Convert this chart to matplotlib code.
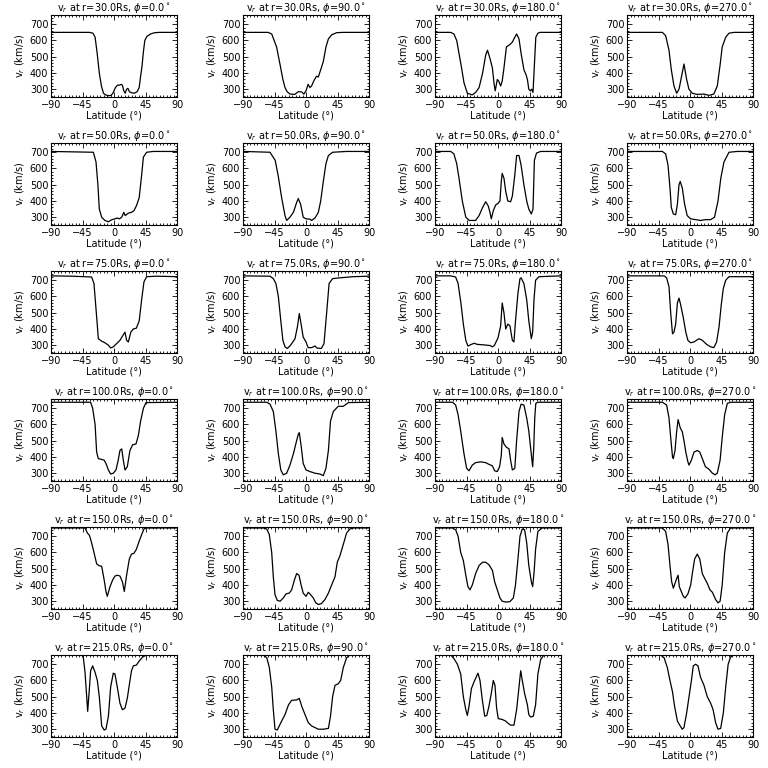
import numpy as np
import matplotlib.pyplot as plt
from matplotlib.ticker import MultipleLocator

radii = [30.0, 50.0, 75.0, 100.0, 150.0, 215.0]
phis = [0.0, 90.0, 180.0, 270.0]
x_ticks = [-90, -45, 0, 45, 90]
y_ticks = [300, 400, 500, 600, 700]

# r = 30 Rs
lat_30_0 = [-90, -35, -30, -27, -24, -21, -18, -15, -12, -8, -4, -1, 2, 5, 8, 10, 12, 14, 16, 18, 20, 22, 25, 29, 33, 36, 38, 40, 42, 44, 47, 52, 58, 65, 90]
v_30_0 = [650, 650, 645, 620, 520, 400, 320, 275, 265, 260, 262, 280, 310, 325, 325, 330, 325, 290, 275, 300, 305, 285, 278, 275, 285, 310, 380, 440, 530, 600, 625, 640, 648, 650, 650]
lat_30_90 = [-90, -54, -49, -42, -37, -33, -30, -27, -23, -16, -11, -6, -3, 0, 3, 5.7, 8, 11, 15, 17.6, 21, 24.7, 28.5, 32, 36.6, 43.8, 53, 90]
v_30_90 = [650, 650, 640, 560, 450, 360, 310, 285, 270, 268, 285, 283, 270, 290, 330, 310, 320, 350, 380, 375, 420, 470, 560, 610, 635, 648, 650, 650]
lat_30_180 = [-90, -67.6, -63, -59, -55.7, -52, -48.6, -43.8, -36.7, -32, -27, -22, -17.6, -15, -11.5, -8, -5.5, -4, -1, 1, 3.8, 6, 8.5, 12, 17, 20.5, 24, 26.6, 30, 33, 37, 40, 42, 44, 46, 48, 50, 52, 54, 57, 60, 90]
v_30_180 = [650, 650, 640, 600, 520, 430, 340, 275, 265, 280, 310, 400, 510, 540, 490, 430, 330, 290, 360, 350, 320, 350, 430, 560, 575, 590, 620, 640, 610, 520, 420, 390, 360, 300, 290, 300, 280, 450, 620, 645, 650, 650]
lat_30_270 = [-90, -39.5, -34.8, -30, -26.7, -22.9, -19, -15.7, -12, -8.6, -4.8, -1.5, 3.3, 10.4, 20, 27, 34, 39, 43, 46, 51, 55.7, 63, 90]
v_30_270 = [650, 650, 630, 540, 420, 320, 275, 300, 380, 455, 360, 300, 275, 268, 270, 262, 270, 320, 450, 560, 620, 645, 650, 650]

# r = 50 Rs
lat_50_0 = [-90, -29.5, -25.7, -23, -21, -17.6, -13, -8, -3, 1.4, 4.7, 7.6, 11, 14, 16, 20.5, 25, 28.5, 32, 36, 39.5, 42, 46.6, 56, 90]
v_50_0 = [705, 700, 640, 500, 350, 300, 280, 272, 285, 290, 295, 290, 300, 330, 310, 325, 330, 340, 370, 420, 560, 670, 700, 705, 705]
lat_50_90 = [-90, -51.4, -44, -39.5, -34.8, -30, -27.6, -23, -18, -13.4, -11, -7.7, -4, 0, 5.7, 8, 12.8, 17.6, 21, 24.7, 28.5, 32, 38, 58, 90]
v_50_90 = [705, 700, 650, 550, 420, 310, 280, 300, 330, 390, 415, 380, 300, 290, 288, 280, 295, 330, 400, 520, 630, 680, 700, 705, 705]
lat_50_180 = [-90, -67.6, -63, -59, -55.7, -51, -46, -41, -32, -27, -22, -17.6, -14, -11.5, -9.6, -6.7, -3.4, 0, 2.8, 4.7, 6, 8.5, 11, 14, 18, 20.5, 24, 26.6, 30, 33, 37, 41, 44, 47.6, 50, 52, 55, 60.9, 90]
v_50_180 = [705, 705, 690, 630, 540, 400, 300, 280, 280, 310, 360, 395, 370, 330, 290, 340, 375, 385, 400, 520, 570, 540, 460, 400, 395, 430, 560, 680, 680, 620, 500, 400, 350, 320, 350, 650, 695, 705, 705]
lat_50_270 = [-90, -39.5, -34.8, -31.4, -28.6, -26.7, -23.8, -20.5, -18, -15.7, -14, -11, -7.7, -4, 0.9, 8, 15, 22, 29.5, 35, 40, 44, 48.5, 55.7, 67.6, 90]
v_50_270 = [705, 705, 690, 620, 480, 360, 320, 315, 380, 500, 520, 480, 380, 310, 290, 285, 280, 285, 285, 300, 400, 540, 640, 700, 705, 705]

# r = 75 Rs
lat_75_0 = [-90, -60, -32, -28.6, -26, -23.8, -22.4, -17.6, -13, -8, -4.8, -1, 3.8, 8.5, 12, 15.7, 18, 20.5, 24, 27.6, 32, 36, 39.5, 42.8, 46.6, 61, 90]
v_75_0 = [727, 725, 720, 680, 540, 420, 340, 325, 315, 300, 283, 290, 310, 330, 355, 380, 330, 320, 380, 400, 405, 450, 580, 690, 722, 725, 722]
lat_75_90 = [-90, -51.4, -46.7, -43, -39.5, -36, -33, -30, -26.7, -22, -15.7, -12, -9.6, -7, -4, 0, 3, 8, 12.8, 16, 22, 25.7, 29.5, 33, 38, 48.5, 67.6, 90]
v_75_90 = [727, 725, 710, 680, 600, 450, 330, 290, 280, 300, 340, 420, 495, 430, 350, 320, 285, 285, 295, 282, 280, 310, 500, 680, 710, 715, 722, 725]
lat_75_180 = [-90, -67.6, -60.5, -57, -53, -49.5, -46, -43, -38, -34, -29.5, -20, -11.5, -8, -5, 0, 3.8, 6, 8.5, 11, 14, 17, 20.5, 22.8, 25, 28.5, 31.4, 33, 37, 41, 44, 47.6, 49.5, 51.4, 53.7, 58.5, 90]
v_75_180 = [727, 727, 720, 680, 560, 430, 330, 295, 305, 312, 305, 302, 298, 290, 300, 345, 420, 560, 500, 400, 430, 420, 330, 320, 450, 620, 710, 715, 680, 580, 450, 340, 380, 580, 700, 722, 727]
lat_75_270 = [-90, -37, -33.4, -30, -27.6, -25, -22.9, -20.5, -18, -15.7, -13.4, -9.6, -6, -3, 0.9, 5.7, 12.8, 17.6, 23.8, 29.5, 34, 38, 41.4, 44.7, 47.6, 51, 55.7, 90]
v_75_270 = [727, 727, 715, 660, 500, 370, 380, 430, 560, 590, 550, 470, 380, 330, 315, 320, 340, 330, 305, 290, 285, 320, 410, 550, 650, 700, 722, 722]

# r = 100 Rs
lat_100_0 = [-90, -33.4, -30.5, -27, -24.8, -22.4, -17.6, -14, -11.5, -8, -4.8, -1, 2.8, 6, 8.5, 11, 13.3, 15.7, 19, 22.8, 26.6, 31.4, 34.7, 38, 42, 45.7, 90]
v_100_0 = [737, 737, 700, 600, 430, 390, 385, 380, 360, 320, 295, 300, 320, 380, 440, 450, 380, 320, 340, 440, 475, 480, 530, 620, 700, 735, 737]
lat_100_90 = [-90, -56, -51.4, -46.7, -43, -39.5, -36, -32.4, -27.6, -22.9, -18, -13.4, -11, -9.6, -7, -4, 0, 5.7, 12.8, 20, 24.7, 28.5, 32, 35, 39, 46, 53.3, 60.5, 90]
v_100_90 = [737, 737, 725, 680, 560, 420, 320, 290, 300, 350, 420, 500, 540, 550, 470, 360, 320, 310, 300, 295, 285, 330, 440, 620, 680, 712, 712, 735, 737]
lat_100_180 = [-90, -65, -60.5, -57, -53.3, -48.6, -44.8, -41.4, -36.7, -32, -24.8, -17.6, -13, -8, -4.8, -1, 2.3, 4.7, 6, 8.5, 12, 15.7, 18, 20.5, 24, 26.6, 30, 33, 37, 41, 44, 46, 48, 49.5, 51, 52.5, 54, 57, 90]
v_100_180 = [737, 737, 720, 660, 560, 420, 330, 315, 350, 365, 370, 365, 355, 345, 315, 310, 340, 410, 520, 480, 460, 450, 380, 320, 330, 500, 680, 725, 720, 640, 560, 480, 400, 340, 450, 640, 730, 737, 737]
lat_100_270 = [-90, -39.5, -33.4, -30, -27.6, -25, -23.8, -21.4, -19, -17, -14, -11, -8.6, -6, -3, -1.5, 2, 5.7, 10.4, 14, 17.6, 22, 27, 32, 35.8, 39, 43, 46, 49.5, 53.3, 58, 90]
v_100_270 = [737, 737, 720, 640, 520, 400, 390, 440, 560, 630, 580, 555, 500, 430, 370, 350, 380, 430, 440, 430, 390, 340, 325, 300, 290, 300, 380, 520, 660, 730, 737, 737]

# r = 150 Rs
lat_150_0 = [-90, -41.4, -38, -35, -32, -28.6, -24.8, -21, -17.6, -14, -11.5, -9.6, -5.7, -2, 1.4, 4.7, 8.5, 12, 14.7, 18, 21.9, 25, 28.5, 32, 36, 39.5, 42.8, 46.6, 90]
v_150_0 = [751, 751, 720, 705, 660, 600, 530, 518, 515, 430, 360, 330, 390, 430, 455, 460, 455, 420, 360, 460, 560, 590, 595, 620, 670, 710, 745, 751, 751]
lat_150_90 = [-90, -61, -56, -52.4, -49, -46.7, -44.3, -41, -37, -32.4, -28.6, -23.8, -20.5, -16.6, -13.4, -10, -7, -4, 0, 3.3, 6.6, 10.4, 14, 17.6, 22, 27, 32, 36.6, 41.4, 44.7, 48.5, 53.3, 58, 62.8, 67.6, 90]
v_150_90 = [751, 751, 745, 710, 600, 450, 340, 305, 300, 320, 345, 350, 370, 430, 470, 460, 400, 350, 330, 355, 340, 320, 290, 280, 285, 310, 350, 400, 450, 540, 580, 650, 720, 745, 751, 751]
lat_150_180 = [-90, -65, -60.5, -57, -53.3, -49.5, -46, -43, -40, -36.7, -32, -27, -22, -17.6, -13, -8, -4.8, -1, 2.8, 6, 11, 17, 21.9, 25, 28.5, 31.4, 34.7, 38, 41, 44, 47.6, 49.5, 51.4, 53.7, 57, 63, 90]
v_150_180 = [751, 751, 740, 700, 600, 550, 460, 390, 370, 400, 470, 520, 540, 540, 525, 490, 420, 370, 320, 300, 295, 297, 320, 400, 560, 700, 745, 740, 660, 520, 420, 390, 470, 620, 730, 751, 751]
lat_150_270 = [-90, -39.5, -34.8, -31.4, -28.6, -26.2, -23.8, -21.4, -19, -17, -15.3, -13.4, -9.6, -7, -3, 1, 3.3, 6.6, 10.4, 14, 17.6, 21, 24.7, 28.5, 32, 36.6, 40, 43, 46, 49.5, 53.3, 58, 90]
v_150_270 = [751, 751, 730, 650, 520, 420, 380, 410, 440, 460, 390, 370, 330, 320, 345, 400, 470, 560, 590, 560, 470, 440, 410, 370, 355, 310, 290, 300, 400, 600, 720, 751, 751]

# r = 215 Rs
lat_215_0 = [-90, -46, -43.8, -41.4, -39, -37.6, -35, -33.4, -30.5, -27, -23.8, -21, -17.6, -14, -11.5, -8, -4.8, -1, 1.4, 4.7, 8.5, 12, 15.7, 19, 22.8, 25, 27.6, 32, 36, 41, 46.6, 90]
v_215_0 = [757, 757, 740, 650, 500, 410, 560, 660, 690, 650, 600, 500, 320, 295, 300, 380, 560, 645, 640, 560, 460, 420, 430, 490, 600, 660, 690, 695, 720, 745, 757, 757]
lat_215_90 = [-90, -61, -56, -52.4, -49, -46.7, -44.3, -41, -36, -30, -25, -20.5, -13.4, -9.6, -6, -1.4, 3.3, 8, 12.8, 17.6, 24.7, 32, 35, 38, 41.4, 46, 49.5, 53.3, 58, 62.8, 90]
v_215_90 = [757, 757, 740, 680, 560, 420, 300, 295, 340, 390, 450, 478, 480, 490, 440, 390, 340, 320, 310, 300, 300, 305, 380, 500, 570, 580, 600, 680, 740, 757, 757]
lat_215_180 = [-90, -67.6, -63, -58, -53.3, -49.5, -46, -43.8, -41.4, -38, -33.4, -28.6, -25.7, -22.4, -19, -16, -13, -9.6, -6.7, -4.3, -2, 0.4, 6, 11, 13.3, 18, 22.8, 26.6, 30, 32.4, 34.7, 38, 42, 44, 46.6, 50.4, 53.7, 57, 61, 65.6, 90]
v_215_180 = [757, 757, 735, 700, 640, 500, 420, 385, 440, 550, 600, 645, 600, 480, 380, 385, 440, 520, 600, 570, 430, 365, 360, 350, 340, 325, 325, 420, 560, 660, 600, 520, 450, 390, 375, 380, 450, 640, 730, 757, 757]
lat_215_270 = [-90, -42, -37, -32.4, -28.6, -25, -22, -18, -14, -11, -8.6, -4.8, -1.4, 2, 4.7, 8, 11.4, 15, 20, 24.7, 29.5, 33, 36.6, 40, 43.8, 47.6, 51, 54.5, 58, 62.8, 90]
v_215_270 = [757, 757, 740, 680, 600, 530, 440, 350, 320, 300, 310, 400, 500, 600, 690, 700, 690, 620, 570, 500, 460, 420, 340, 300, 305, 400, 560, 700, 745, 757, 757]

panels = [
    [(lat_30_0, v_30_0), (lat_30_90, v_30_90), (lat_30_180, v_30_180), (lat_30_270, v_30_270)],
    [(lat_50_0, v_50_0), (lat_50_90, v_50_90), (lat_50_180, v_50_180), (lat_50_270, v_50_270)],
    [(lat_75_0, v_75_0), (lat_75_90, v_75_90), (lat_75_180, v_75_180), (lat_75_270, v_75_270)],
    [(lat_100_0, v_100_0), (lat_100_90, v_100_90), (lat_100_180, v_100_180), (lat_100_270, v_100_270)],
    [(lat_150_0, v_150_0), (lat_150_90, v_150_90), (lat_150_180, v_150_180), (lat_150_270, v_150_270)],
    [(lat_215_0, v_215_0), (lat_215_90, v_215_90), (lat_215_180, v_215_180), (lat_215_270, v_215_270)],
]

plt.rcParams['font.family'] = 'DejaVu Sans'
plt.rcParams['mathtext.fontset'] = 'dejavusans'

fig = plt.figure(figsize=(7.68, 7.68), dpi=100)
W = 768.0
for i, r in enumerate(radii):
    for j, phi in enumerate(phis):
        x0 = 51 + 192 * j
        y1 = 97 + 128 * i
        ax = fig.add_axes([x0 / W, 1 - y1 / W, 126 / W, 82 / W])
        lat, v = panels[i][j]
        ax.plot(lat, v, color='black', lw=0.9)
        ax.set_xlim(-90, 90)
        ax.set_ylim(252, 757)
        ax.set_xticks(x_ticks)
        ax.set_yticks(y_ticks)
        ax.xaxis.set_minor_locator(MultipleLocator(5))
        ax.yaxis.set_minor_locator(MultipleLocator(20))
        ax.tick_params(which='both', direction='in', top=True, right=True,
                       labelsize=7, width=0.6, pad=2)
        ax.tick_params(which='major', length=3.5)
        ax.tick_params(which='minor', length=1.5)
        for s in ax.spines.values():
            s.set_linewidth(0.8)
        ax.set_title(r'v$_r$ at r=%.1fRs, $\phi$=%.1f$^\circ$' % (r, phi),
                     fontsize=7, pad=2.5)
        ax.set_xlabel('Latitude (°)', fontsize=7, labelpad=0.5)
        ax.set_ylabel(r'v$_r$ (km/s)', fontsize=7, labelpad=2)

fig.savefig('out.png', dpi=100, facecolor='white')
